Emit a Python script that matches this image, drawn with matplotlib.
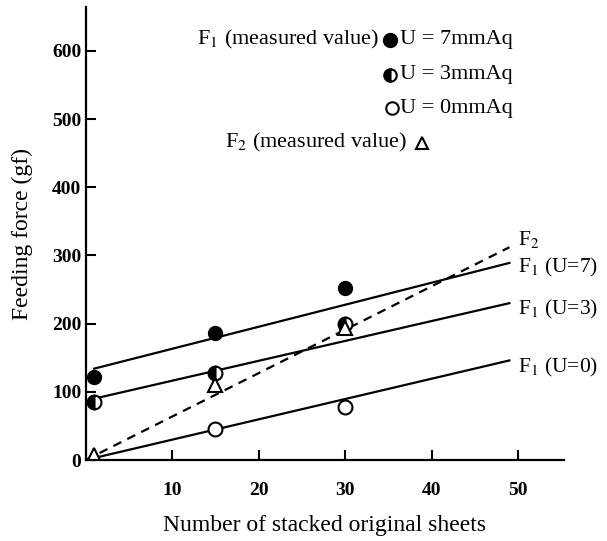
import matplotlib.pyplot as plt

# We define plot properties.
FontSize = 14
FontType = 'Liberation Serif'
plt.rcParams['mathtext.fontset'] = 'stix'

# We define each data set (measured values).
Sheets = [1, 15, 30]
F1_U7 = [122, 186, 252]
F1_U3 = [85, 128, 199]
F1_U0_Sheets = [15, 30]
F1_U0 = [46, 78]
F2_Vals = [8, 110, 193]

# We define the fitted lines.
Line_Sheets = [1, 49]
Line_U7 = [134, 289]
Line_U3 = [90, 230]
Line_U0_Sheets = [0, 49]
Line_U0 = [0, 146]
Line_F2_Sheets = [0, 49]
Line_F2 = [0, 312]
Line_Labels = ['F$_2$', 'F$_1$ (U=7)', 'F$_1$ (U=3)', 'F$_1$ (U=0)']

# We set up the figure.
fig = plt.figure(figsize = (6.07, 5.41), dpi = 100)
ax = fig.add_axes([0.141, 0.1497, 0.788, 0.837])

# We plot the lines.
ax.plot(Line_Sheets, Line_U7, c = 'black', lw = 1.6)
ax.plot(Line_Sheets, Line_U3, c = 'black', lw = 1.6)
ax.plot(Line_U0_Sheets, Line_U0, c = 'black', lw = 1.6)
ax.plot(Line_F2_Sheets, Line_F2, c = 'black', lw = 1.6, ls = (0, (4, 3)))

# We plot the measured points.
ax.plot(Sheets, F1_U7, 'o', ms = 10, c = 'black')
ax.plot(Sheets, F1_U3, 'o', ms = 10, mec = 'black', mfc = 'black', mfcalt = 'white', fillstyle = 'left', mew = 1.5)
ax.plot(F1_U0_Sheets, F1_U0, 'o', ms = 10, mec = 'black', mfc = 'white', mew = 1.5)
ax.plot(Sheets, F2_Vals, '^', ms = 10, mec = 'black', mfc = 'white', mew = 1.5)

# We label the line ends.
ax.text(50.0, 323, Line_Labels[0], fontsize = 15.5, fontname = FontType, va = 'center')
ax.text(50.0, 282, Line_Labels[1], fontsize = 15.5, fontname = FontType, va = 'center')
ax.text(50.0, 221, Line_Labels[2], fontsize = 15.5, fontname = FontType, va = 'center')
ax.text(50.0, 136, Line_Labels[3], fontsize = 15.5, fontname = FontType, va = 'center')

# We draw the legend by hand.
ax.text(33.9, 616, 'F$_1$ (measured value)', fontsize = 16, fontname = FontType, ha = 'right', va = 'center')
ax.plot([35.2], [616], 'o', ms = 10, c = 'black')
ax.plot([35.2], [565], 'o', ms = 9, mec = 'black', mfc = 'black', mfcalt = 'white', fillstyle = 'left', mew = 1.5)
ax.plot([35.4], [516], 'o', ms = 9, mec = 'black', mfc = 'white', mew = 1.5)
ax.text(36.3, 616, 'U = 7mmAq', fontsize = 16, fontname = FontType, va = 'center')
ax.text(36.3, 565, 'U = 3mmAq', fontsize = 16, fontname = FontType, va = 'center')
ax.text(36.3, 516, 'U = 0mmAq', fontsize = 16, fontname = FontType, va = 'center')
ax.text(37.2, 465, 'F$_2$ (measured value)', fontsize = 16, fontname = FontType, ha = 'right', va = 'center')
ax.plot([38.9], [465], '^', ms = 9, mec = 'black', mfc = 'white', mew = 1.5)

# We configure.
ax.set_xlim([0, 55.3])
ax.set_ylim([0, 664])
ax.set_xticks([10, 20, 30, 40, 50])
ax.set_yticks([0, 100, 200, 300, 400, 500, 600])
ax.spines['top'].set_visible(False)
ax.spines['right'].set_visible(False)
ax.spines['left'].set_linewidth(1.6)
ax.spines['bottom'].set_linewidth(1.6)
ax.tick_params(direction = 'in', length = 7, width = 1.5, labelsize = FontSize)
for lab in ax.get_xticklabels() + ax.get_yticklabels():
    lab.set_fontname(FontType)
    lab.set_fontweight('bold')
ax.tick_params(axis = 'x', pad = 16)
ax.tick_params(axis = 'y', pad = 3)
ax.set_xlabel('Number of stacked original sheets', fontsize = 17, fontname = FontType, labelpad = 11)
ax.set_ylabel('Feeding force (gf)', fontsize = 17, fontname = FontType, labelpad = 14)

# We save.
plt.savefig('out.png', dpi = 100)
